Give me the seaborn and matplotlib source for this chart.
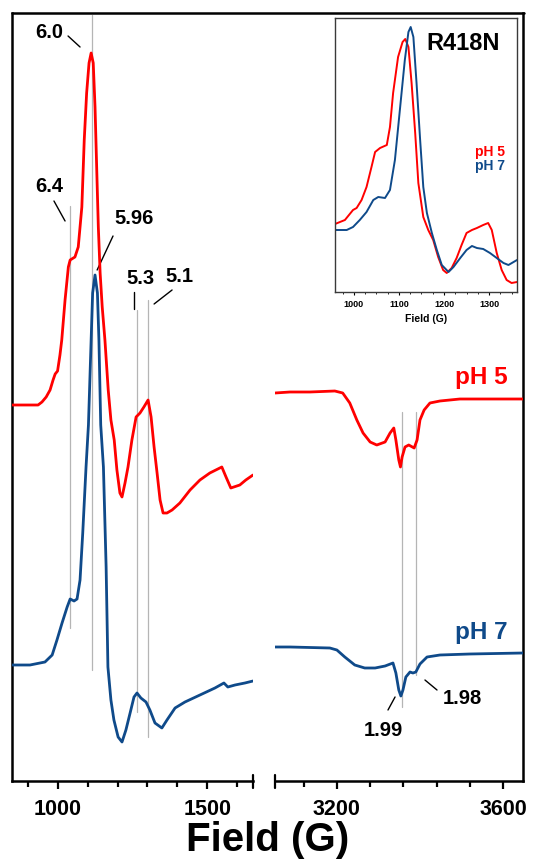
import numpy as np
import matplotlib
matplotlib.use("Agg")
import matplotlib.pyplot as plt
from matplotlib.lines import Line2D
import seaborn as sns

sns.set_theme(style="white")
plt.rcParams["font.family"] = ["Liberation Sans", "DejaVu Sans"]
plt.rcParams["font.weight"] = "bold"
plt.rcParams["text.color"] = "black"
plt.rcParams["axes.labelcolor"] = "black"
plt.rcParams["xtick.color"] = "black"

RED = "#ff0000"
BLUE = "#0f4a8a"
GRID = "#b5b5b5"

# ---- low-field region (G) ----
field_lo_ph5 = [848, 935, 948, 962, 975, 985, 992, 1000, 1008, 1014, 1025, 1036, 1042, 1058,
                1069, 1081, 1089, 1097, 1105, 1112, 1119, 1125, 1131, 1136, 1142, 1149, 1158,
                1169, 1178, 1189, 1198, 1208, 1215, 1225, 1235, 1248, 1262, 1275, 1288, 1302,
                1312, 1322, 1332, 1342, 1352, 1365, 1382, 1408, 1442, 1475, 1508, 1548,
                1562, 1578, 1608, 1628, 1652]
int_lo_ph5 = [0.00, 0.00, 0.03, 0.08, 0.15, 0.25, 0.31, 0.34, 0.50, 0.65, 1.05, 1.38, 1.45, 1.48,
              1.58, 1.98, 2.65, 3.12, 3.42, 3.52, 3.42, 2.98, 2.32, 1.78, 1.32, 0.98, 0.65,
              0.15, -0.15, -0.35, -0.65, -0.88, -0.92, -0.78, -0.62, -0.35, -0.12, -0.08, -0.02, 0.05,
              -0.12, -0.42, -0.68, -0.95, -1.08, -1.08, -1.05, -0.98, -0.85, -0.75, -0.68, -0.62,
              -0.72, -0.83, -0.80, -0.75, -0.70]

field_lo_ph7 = [848, 908, 958, 982, 998, 1015, 1032, 1042, 1055, 1065, 1075, 1084, 1095,
                1103, 1112, 1117, 1125, 1133, 1138, 1144, 1153, 1162, 1168, 1178, 1188, 1202, 1215,
                1228, 1242, 1255, 1265, 1278, 1295, 1308, 1325, 1348, 1365, 1392, 1425,
                1475, 1525, 1555, 1568, 1592, 1625, 1652]
int_lo_ph7 = [0.00, 0.00, 0.03, 0.10, 0.25, 0.42, 0.58, 0.66, 0.64, 0.66, 0.85, 1.32, 1.98,
              2.40, 3.25, 3.72, 3.90, 3.72, 3.25, 2.40, 1.98, 0.98, -0.02, -0.35, -0.55, -0.72, -0.77,
              -0.65, -0.48, -0.32, -0.28, -0.33, -0.37, -0.45, -0.58, -0.63, -0.55, -0.43, -0.37,
              -0.30, -0.23, -0.18, -0.22, -0.20, -0.18, -0.16]

# ---- g ~ 2 region (G) ----
field_hi_ph5 = [3051, 3087, 3135, 3195, 3214, 3231, 3248, 3263, 3280, 3296, 3316, 3328,
                3337, 3342, 3349, 3353, 3357, 3364, 3373, 3386, 3393, 3400, 3410, 3424,
                3448, 3496, 3569, 3648]
int_hi_ph5 = [0.12, 0.13, 0.13, 0.14, 0.12, 0.02, -0.15, -0.28, -0.37, -0.40, -0.37, -0.28,
              -0.23, -0.35, -0.55, -0.62, -0.52, -0.42, -0.40, -0.43, -0.35, -0.15, -0.05, 0.02,
              0.04, 0.06, 0.06, 0.06]

field_hi_ph7 = [3051, 3087, 3183, 3200, 3219, 3243, 3267, 3292, 3316, 3335, 3342, 3349,
                3354, 3359, 3366, 3376, 3383, 3390, 3400, 3417, 3448, 3520, 3648]
int_hi_ph7 = [0.18, 0.18, 0.17, 0.15, 0.08, 0.00, -0.03, -0.03, -0.01, 0.02, -0.08, -0.25,
              -0.31, -0.25, -0.12, -0.07, -0.08, -0.07, 0.01, 0.08, 0.10, 0.11, 0.12]

# ---- R418N overlay (G) ----
field_in_ph5 = [958, 980, 998, 1006, 1017, 1028, 1039, 1047, 1058, 1073, 1080, 1087, 1098,
                1108, 1114, 1121, 1128, 1136, 1143, 1154, 1165, 1176, 1187, 1198, 1206,
                1217, 1228, 1239, 1250, 1262, 1273, 1287, 1298, 1306, 1317, 1328, 1339,
                1350, 1362]
int_in_ph5 = [0.68, 0.72, 0.82, 0.84, 0.92, 1.05, 1.25, 1.40, 1.44, 1.47, 1.65, 1.99, 2.35,
              2.50, 2.53, 2.45, 2.09, 1.59, 1.09, 0.75, 0.62, 0.52, 0.35, 0.22, 0.19,
              0.24, 0.34, 0.47, 0.59, 0.62, 0.64, 0.67, 0.69, 0.62, 0.39, 0.22, 0.12,
              0.09, 0.10]

field_in_ph7 = [958, 984, 998, 1013, 1028, 1043, 1054, 1069, 1080, 1091, 1102, 1113, 1121,
                1126, 1132, 1139, 1147, 1154, 1162, 1173, 1184, 1195, 1210, 1221, 1236,
                1250, 1262, 1273, 1287, 1302, 1317, 1332, 1343, 1362]
int_in_ph7 = [0.62, 0.62, 0.65, 0.72, 0.80, 0.92, 0.95, 0.94, 1.02, 1.32, 1.82, 2.32, 2.60,
              2.65, 2.55, 2.09, 1.52, 1.05, 0.79, 0.59, 0.42, 0.27, 0.20, 0.25, 0.34,
              0.42, 0.46, 0.44, 0.43, 0.39, 0.34, 0.29, 0.27, 0.32]

# g-value markers
g_lo_fields = [1042, 1114, 1265, 1302]
g_lo_labels = ["6.4", "6.0", "5.3", "5.1"]
g_hi_fields = [3356, 3390]
g_hi_labels = ["1.99", "1.98"]

OFFSET_PH5 = 3.76
OFFSET_PH7 = 1.16
YLIM = (0, 7.68)

W, H = 533, 865
fig = plt.figure(figsize=(W / 100, H / 100), dpi=100)


def frac(x0, y0, x1, y1):
    return [x0 / W, 1 - y1 / H, (x1 - x0) / W, (y1 - y0) / H]


ax_lo = fig.add_axes(frac(12, 13, 253, 781))
ax_hi = fig.add_axes(frac(275, 13, 523, 781))

LW = 2.0
for ax, f5, i5, f7, i7 in [(ax_lo, field_lo_ph5, int_lo_ph5, field_lo_ph7, int_lo_ph7),
                           (ax_hi, field_hi_ph5, int_hi_ph5, field_hi_ph7, int_hi_ph7)]:
    sns.lineplot(x=f5, y=np.array(i5) + OFFSET_PH5, ax=ax, color=RED, lw=LW, sort=False, zorder=3)
    sns.lineplot(x=f7, y=np.array(i7) + OFFSET_PH7, ax=ax, color=BLUE, lw=LW, sort=False, zorder=3)
    ax.set_ylim(*YLIM)
    ax.set_yticks([])
    ax.set_ylabel("")
    ax.set_xlabel("")
    for s in ax.spines.values():
        s.set_linewidth(1.8)
        s.set_color("black")
    ax.spines["top"].set_visible(False)
    ax.tick_params(axis="x", which="major", direction="out", length=6, width=1.6,
                   labelsize=15.5, pad=7, colors="black", bottom=True)
    ax.tick_params(axis="x", which="minor", direction="out", length=4, width=1.6, bottom=True)

ax_lo.set_xlim(848, 1652)
ax_lo.spines["right"].set_visible(False)
ax_lo.set_xticks([1000, 1500])
ax_lo.set_xticks([900, 1100, 1200, 1300, 1400, 1600], minor=True)

ax_hi.set_xlim(3051, 3648)
ax_hi.spines["left"].set_visible(False)
ax_hi.set_xticks([3200, 3600])
ax_hi.set_xticks([3120, 3280, 3360, 3440, 3520], minor=True)

for ax in (ax_lo, ax_hi):
    ax.set_xticklabels([str(t) for t in ax.get_xticks()], fontweight="bold", fontsize=15.5,
                       color="black")

# break caps at the ends of the split axis
fig.add_artist(Line2D([253 / W, 253 / W], [1 - 775 / H, 1 - 788 / H], color="black", lw=1.6))
fig.add_artist(Line2D([275 / W, 275 / W], [1 - 775 / H, 1 - 788 / H], color="black", lw=1.6))
# continuous top frame
fig.add_artist(Line2D([12 / W, 524 / W], [1 - 13 / H, 1 - 13 / H], color="black", lw=1.8))

# g-value guide lines, low field
lo_spans = [(1.53, 5.75), (1.11, 7.66), (0.69, 4.71), (0.44, 4.81)]
for fx, (y0, y1) in zip(g_lo_fields, lo_spans):
    ax_lo.plot([fx, fx], [y0, y1], color=GRID, lw=0.9, zorder=1)

hi_spans = [(0.74, 3.69), (1.06, 3.69)]
for fx, (y0, y1) in zip(g_hi_fields, hi_spans):
    ax_hi.plot([fx, fx], [y0, y1], color=GRID, lw=0.9, zorder=1)

TXT = dict(fontsize=14.5, fontweight="bold", color="black", ha="center", va="center")
# labels with short leaders
ax_lo.text(972, 7.48, "6.0", **TXT)
ax_lo.plot([1035, 1075], [7.45, 7.34], color="black", lw=1.0)
ax_lo.text(972, 5.95, "6.4", **TXT)
ax_lo.plot([988, 1025], [5.80, 5.60], color="black", lw=1.0)
ax_lo.text(1255, 5.63, "5.96", **TXT)
ax_lo.plot([1185, 1132], [5.45, 5.11], color="black", lw=1.0)
ax_lo.text(1278, 5.03, "5.3", **TXT)
ax_lo.plot([1255, 1255], [4.89, 4.72], color="black", lw=1.0)
ax_lo.text(1405, 5.04, "5.1", **TXT)
ax_lo.plot([1382, 1322], [4.91, 4.77], color="black", lw=1.0)

ax_hi.text(3311, 0.51, g_hi_labels[0], **TXT)
ax_hi.plot([3323, 3340], [0.71, 0.84], color="black", lw=1.0)
ax_hi.text(3501, 0.83, g_hi_labels[1], **TXT)
ax_hi.plot([3412, 3441], [1.01, 0.91], color="black", lw=1.0)

ax_hi.text(3612, 4.04, "pH 5", fontsize=17.5, fontweight="bold", color=RED, ha="right", va="center")
ax_hi.text(3612, 1.49, "pH 7", fontsize=17.5, fontweight="bold", color=BLUE, ha="right", va="center")

fig.text(268 / W, 1 - 840 / H, "Field (G)", fontsize=29, fontweight="bold",
         color="black", ha="center", va="center")

# ---- inset ----
ax_in = fig.add_axes(frac(335, 18, 517, 292))
sns.lineplot(x=field_in_ph5, y=int_in_ph5, ax=ax_in, color=RED, lw=1.4, sort=False)
sns.lineplot(x=field_in_ph7, y=int_in_ph7, ax=ax_in, color=BLUE, lw=1.4, sort=False)
ax_in.set_xlim(958, 1362)
ax_in.set_ylim(0, 2.74)
ax_in.set_yticks([])
ax_in.set_ylabel("")
ax_in.set_xticks([1000, 1100, 1200, 1300])
ax_in.set_xticks(np.arange(975, 1362, 25), minor=True)
ax_in.set_xticklabels(["1000", "1100", "1200", "1300"], fontsize=6.5, fontweight="bold",
                      color="black")
ax_in.tick_params(axis="x", which="major", direction="out", length=2.5, width=0.8, pad=3,
                  bottom=True, colors="black")
ax_in.tick_params(axis="x", which="minor", direction="out", length=1.5, width=0.6, bottom=True)
ax_in.set_xlabel("Field (G)", fontsize=7.5, fontweight="bold", labelpad=4, color="black")
for s in ax_in.spines.values():
    s.set_linewidth(1.0)
    s.set_color("#3a3a3a")
ax_in.text(1242, 2.49, "R418N", fontsize=17, fontweight="bold", color="black",
           ha="center", va="center")
ax_in.text(1336, 1.40, "pH 5", fontsize=10, fontweight="bold", color=RED, ha="right", va="center")
ax_in.text(1336, 1.26, "pH 7", fontsize=10, fontweight="bold", color=BLUE, ha="right", va="center")

fig.savefig("out.png", dpi=100)
